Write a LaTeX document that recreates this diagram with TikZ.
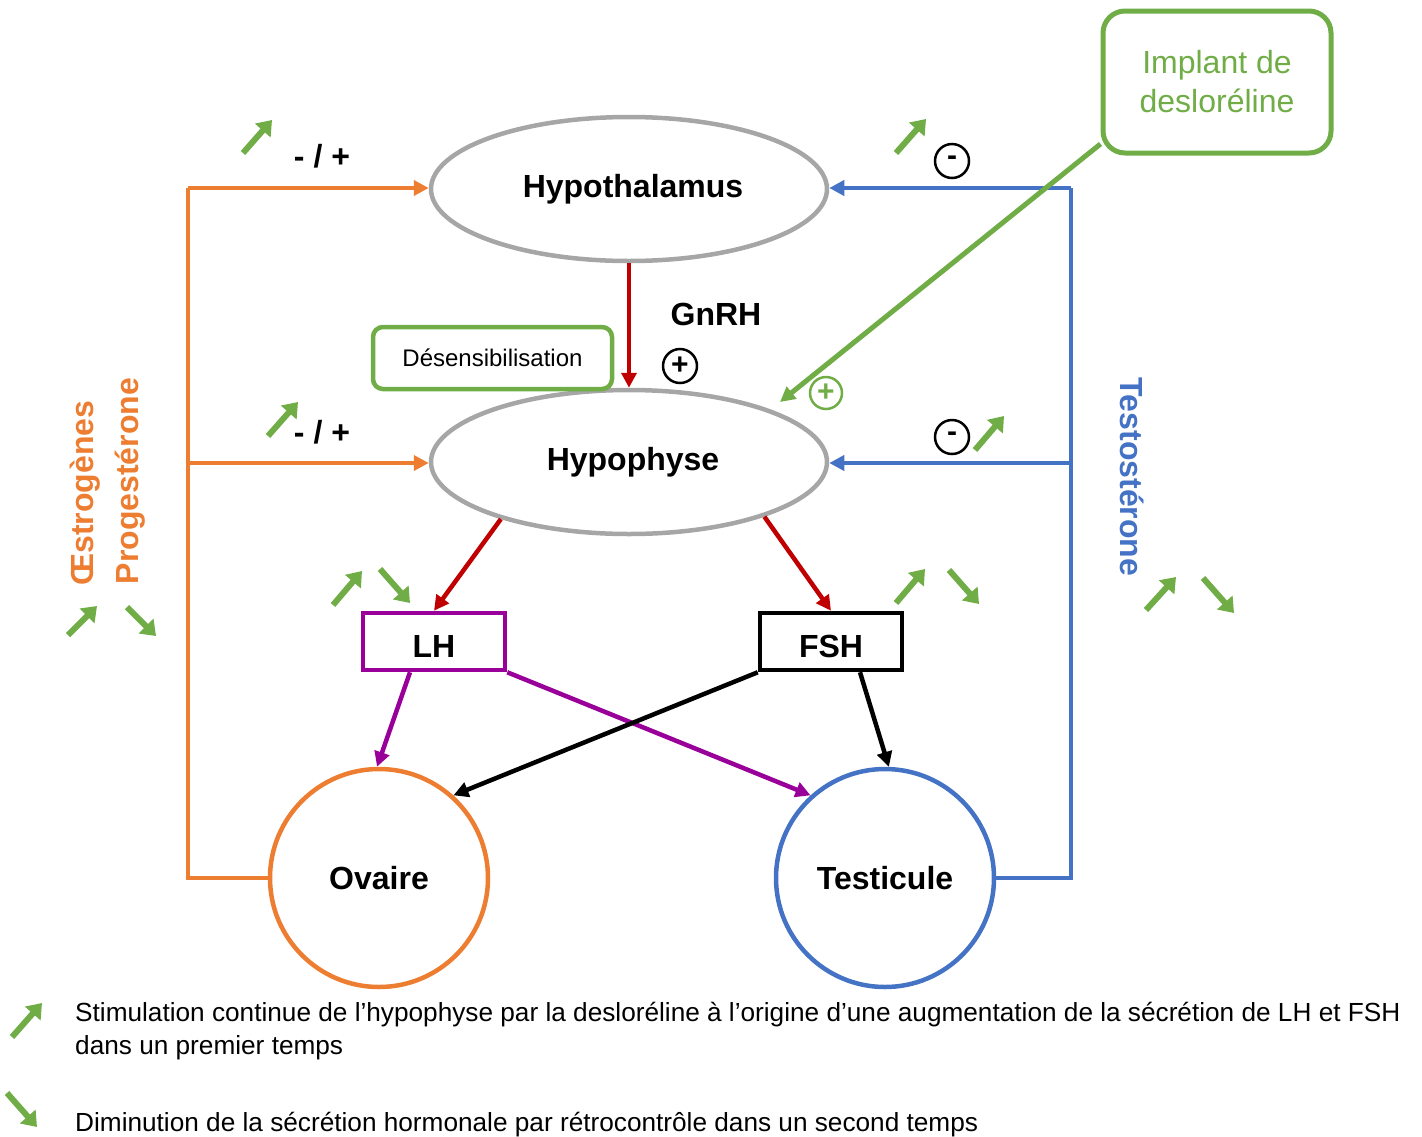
\documentclass[tikz,border=0pt]{standalone}
\usepackage{fontspec}
\setmainfont{Liberation Sans}
\usetikzlibrary{shapes.geometric,arrows.meta,calc}
\definecolor{cgreen}{HTML}{70AD47}
\definecolor{corange}{HTML}{ED7D31}
\definecolor{cblue}{HTML}{4472C4}
\definecolor{cgray}{HTML}{A6A6A6}
\definecolor{cpurple}{HTML}{990099}
\definecolor{cred}{HTML}{C00000}
\begin{document}
\begin{tikzpicture}[x=1pt,y=-1pt,
  big/.style={font=\fontsize{32}{38}\selectfont\bfseries},
  organ/.style={ellipse, draw=cgray, line width=4.5pt, minimum width=396pt, minimum height=144pt, inner sep=0pt, big},
  hbox/.style={rectangle, draw, line width=4.5pt, minimum width=142pt, minimum height=57pt, inner sep=0pt, big, text height=32pt, text depth=0pt},
  gland/.style={circle, line width=4.5pt, minimum size=218pt, inner sep=0pt, big},
  conn/.style={line width=4.5pt, -{Triangle[length=15pt,width=15pt]}},
  trend/.style={cgreen, line width=6pt, -{Triangle[length=14pt,width=20pt]}},
  sign/.style={circle, draw, line width=2.5pt, minimum size=34pt, inner sep=0pt, font=\fontsize{30}{30}\selectfont\bfseries},
  lbl/.style={font=\fontsize{32}{38}\selectfont\bfseries},
  legend/.style={font=\fontsize{26.2}{30}\selectfont, anchor=base west, inner sep=0pt}
]
\useasboundingbox (0,0) rectangle (1422,1136);

% main nodes
\node[organ] (hypoth) at (629,189) {\hspace*{8pt}\raisebox{2pt}{Hypothalamus}};
\node[organ] (hypoph) at (629,462) {\hspace*{8pt}\raisebox{-2pt}{Hypophyse}};
\node[hbox, draw=cpurple] (lh) at (434,641.5) {LH};
\node[hbox, draw=black] (fsh) at (831,641.5) {FSH};
\node[gland, draw=corange] (ovaire) at (379,878) {Ovaire};
\node[gland, draw=cblue] (testi) at (885,878) {\raisebox{-3pt}{Testicule}};
\node[rectangle, rounded corners=22pt, draw=cgreen, line width=5pt, minimum width=228pt, minimum height=142pt,
      text=cgreen, align=center, font=\fontsize{32}{39}\selectfont] (implant) at (1217,82) {Implant de\\desloréline};
\node[rectangle, rounded corners=10pt, draw=cgreen, line width=4.5pt, minimum width=239pt, minimum height=62pt,
      font=\fontsize{24}{28}\selectfont] (desens) at (492.5,358) {Désensibilisation};

% orange feedback
\coordinate (oc1) at (188,878);
\coordinate (oc2) at (188,188);
\coordinate (oc3) at (188,463);
\draw[corange, line width=4.5pt] (ovaire.west) -- (oc1) -- (oc2);
\draw[corange, conn] (oc2) -- (oc2 -| hypoth.west);
\draw[corange, conn] (oc3) -- (oc3 -| hypoph.west);

% blue feedback
\coordinate (bc1) at (1071,878);
\coordinate (bc2) at (1071,188);
\coordinate (bc3) at (1071,463);
\draw[cblue, line width=4.5pt] (testi.east) -- (bc1) -- (bc2);
\draw[cblue, conn] (bc2) -- (bc2 -| hypoth.east);
\draw[cblue, conn] (bc3) -- (bc3 -| hypoph.east);

% red arrows
\draw[cred, conn] (hypoth.south) -- (hypoph.north);
\draw[cred, conn] (hypoph.204) -- (lh.north);
\draw[cred, conn] (hypoph.-22) -- (fsh.north);

% LH / FSH to gonads
\draw[cpurple, conn] ([xshift=-24pt]lh.south) -- (ovaire.91);
\draw[cpurple, conn] (lh.south east) -- (testi.132);
\draw[black, conn] (fsh.south west) -- (ovaire.48);
\draw[black, conn] ([xshift=29pt]fsh.south) -- (testi.88);

% implant line
\coordinate (gend) at (780,402);
\draw[cgreen, conn, line width=5pt] (implant.208.5) -- (gend);

% labels
\node[lbl] (pm1) at (322,156) {- / +};
\node[lbl] (pm2) at (322,432) {- / +};
\node[lbl] (gnrh) at (716,314) {GnRH};
\node[sign] (s1) at (680,366) {+};
\node[sign, draw=cgreen, text=cgreen, minimum size=32pt] (s2) at (826,393) {+};
\node[sign] (s3) at (952,161) {-};
\node[sign] (s4) at (952,437) {-};
\node[lbl, rotate=90, text=corange] (oestro) at (85,493) {Œstrogènes};
\node[lbl, rotate=90, text=corange] (proge) at (130,481) {Progestérone};
\node[lbl, rotate=-90, text=cblue] (testo) at (1132,477) {Testostérone};

% trend arrows
\draw[trend] (243,153) -- (272,120);
\draw[trend] (896,153) -- (926,119);
\draw[trend] (268,436) -- (298,402);
\draw[trend] (975,450) -- (1004,416);
\draw[trend] (68,635) -- (97,606);
\draw[trend] (127,607) -- (156,636);
\draw[trend] (333,605) -- (362,571);
\draw[trend] (380,569) -- (410,603);
\draw[trend] (896,603) -- (925,569);
\draw[trend] (949,570) -- (979,604);
\draw[trend] (1146,610) -- (1176,577);
\draw[trend] (1203,578) -- (1234,613);
\draw[trend] (12,1037) -- (42,1003);
\draw[trend] (7,1093) -- (37,1127);

% legend
\node[legend] (l1) at (75,1021) {Stimulation continue de l’hypophyse par la desloréline à l’origine d’une augmentation de la sécrétion de LH et FSH};
\node[legend] (l2) at (75,1054) {dans un premier temps};
\node[legend] (l3) at (75,1131) {Diminution de la sécrétion hormonale par rétrocontrôle dans un second temps};
\end{tikzpicture}
\end{document}
